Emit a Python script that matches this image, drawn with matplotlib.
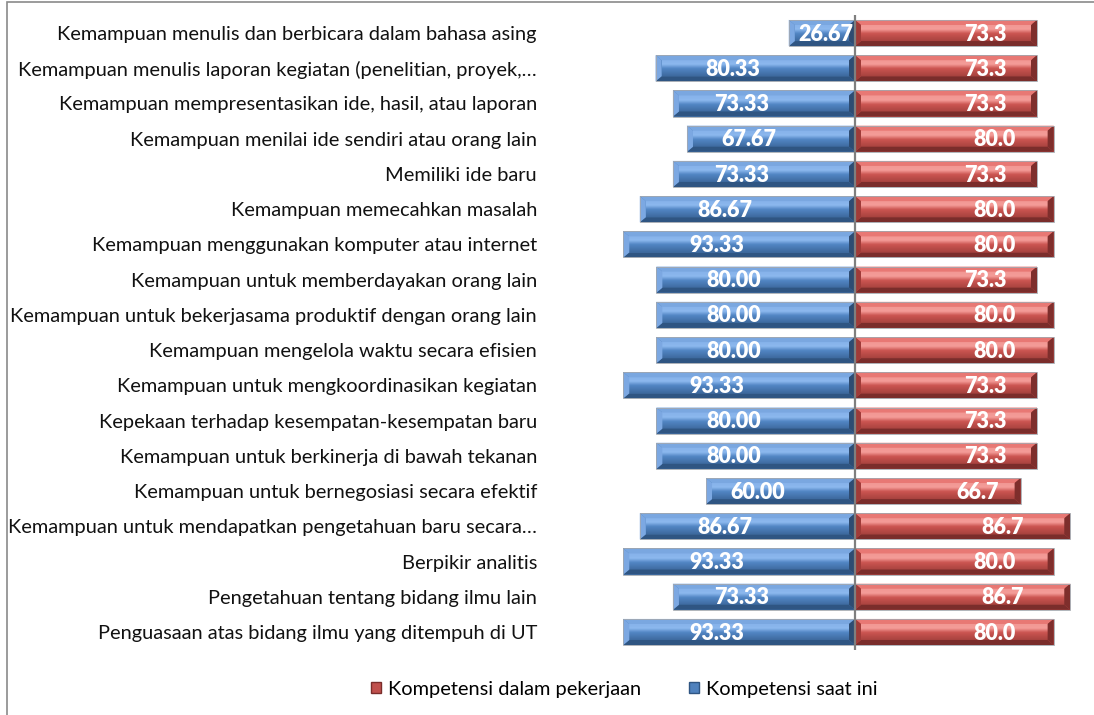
import numpy as np
import matplotlib
matplotlib.use("Agg")
import matplotlib.pyplot as plt
from matplotlib.patches import Polygon, Rectangle, Patch
from matplotlib.colors import to_rgb

categories = [
    "Kemampuan menulis dan berbicara dalam bahasa asing",
    "Kemampuan menulis laporan kegiatan (penelitian, proyek,…",
    "Kemampuan mempresentasikan ide, hasil, atau laporan",
    "Kemampuan menilai ide sendiri atau orang lain",
    "Memiliki ide baru",
    "Kemampuan memecahkan masalah",
    "Kemampuan menggunakan komputer atau internet",
    "Kemampuan untuk memberdayakan orang lain",
    "Kemampuan untuk bekerjasama produktif dengan orang lain",
    "Kemampuan mengelola waktu secara efisien",
    "Kemampuan untuk mengkoordinasikan kegiatan",
    "Kepekaan terhadap kesempatan-kesempatan baru",
    "Kemampuan untuk berkinerja di bawah tekanan",
    "Kemampuan untuk bernegosiasi secara efektif",
    "Kemampuan untuk mendapatkan pengetahuan baru secara…",
    "Berpikir analitis",
    "Pengetahuan tentang bidang ilmu lain",
    "Penguasaan atas bidang ilmu yang ditempuh di UT",
]
kompetensi_saat_ini = [26.67, 80.33, 73.33, 67.67, 73.33, 86.67, 93.33, 80.00, 80.00,
                       80.00, 93.33, 80.00, 80.00, 60.00, 86.67, 93.33, 73.33, 93.33]
kompetensi_pekerjaan = [73.3, 73.3, 73.3, 80.0, 73.3, 80.0, 80.0, 73.3, 80.0,
                        80.0, 73.3, 73.3, 73.3, 66.7, 86.7, 80.0, 86.7, 80.0]
label_saat_ini = ["26.67", "80.33", "73.33", "67.67", "73.33", "86.67", "93.33", "80.00", "80.00",
                  "80.00", "93.33", "80.00", "80.00", "60.00", "86.67", "93.33", "73.33", "93.33"]
label_pekerjaan = ["73.3", "73.3", "73.3", "80.0", "73.3", "80.0", "80.0", "73.3", "80.0",
                   "80.0", "73.3", "73.3", "73.3", "66.7", "86.7", "80.0", "86.7", "80.0"]
legend_labels = ["Kompetensi dalam pekerjaan", "Kompetensi saat ini"]

W, H = 1094, 715
fig = plt.figure(figsize=(W / 100, H / 100), dpi=100)
fig.patch.set_facecolor("white")

# axes geometry (pixels)
ax_l, ax_r, ax_t, ax_b = 560, 1090, 15.4, 649.6
ax = fig.add_axes([ax_l / W, 1 - ax_b / H, (ax_r - ax_l) / W, (ax_b - ax_t) / H])
ppu = 2.483  # pixels per data unit
zero_px = 855
ax.set_xlim(-(zero_px - ax_l) / ppu, (ax_r - zero_px) / ppu)
n = len(categories)
ax.set_ylim(n - 0.5, -0.5)
ppy = (ax_b - ax_t) / n
for s in ax.spines.values():
    s.set_visible(False)
ax.set_xticks([])
y = np.arange(n)
ax.set_yticks(y)
ax.set_yticklabels(categories, fontsize=14.4, family="Lato", color="#111111")
ax.tick_params(axis="y", length=0, pad=16.6)

h = 0.74
blue = dict(base="#4F81BD", stops=[(0.0, "#86B2EA"), (0.3, "#8CB8EE"), (0.55, "#5286C4"), (1.0, "#3E6A9F")],
            top="#7AA7E0", bottom="#2F5582", left="#7CA8E2", right="#2E4C72")
red = dict(base="#C0504D", stops=[(0.0, "#F29793"), (0.3, "#F49C98"), (0.55, "#CC5551"), (1.0, "#A8433F")],
           top="#E87874", bottom="#7A2D2B", left="#A03B38", right="#7E2E2C")

bars_b = ax.barh(y, [-v for v in kompetensi_saat_ini], height=h, color=blue["base"], zorder=1)
bars_r = ax.barh(y, kompetensi_pekerjaan, height=h, color=red["base"], zorder=1)


def bevel(rect, c):
    x0 = rect.get_x(); wdt = rect.get_width()
    xa, xb = min(x0, x0 + wdt), max(x0, x0 + wdt)
    y0 = rect.get_y(); y1 = y0 + rect.get_height()  # y0 top (inverted axis)
    bx = 6 / ppu
    by = 5 / ppy
    stops = c["stops"]
    N = 40
    t = np.linspace(0, 1, N)
    cols = np.zeros((N, 1, 3))
    for k in range(3):
        cols[:, 0, k] = np.interp(t, [s[0] for s in stops], [to_rgb(s[1])[k] for s in stops])
    ax.imshow(cols, extent=[xa + bx, xb - bx, y1 - by, y0 + by], aspect="auto",
              interpolation="bilinear", zorder=2)
    polys = [
        ([(xa, y0), (xb, y0), (xb - bx, y0 + by), (xa + bx, y0 + by)], c["top"]),
        ([(xa, y1), (xb, y1), (xb - bx, y1 - by), (xa + bx, y1 - by)], c["bottom"]),
        ([(xa, y0), (xa + bx, y0 + by), (xa + bx, y1 - by), (xa, y1)], c["left"]),
        ([(xb, y0), (xb - bx, y0 + by), (xb - bx, y1 - by), (xb, y1)], c["right"]),
    ]
    for pts, col in polys:
        ax.add_patch(Polygon(pts, closed=True, facecolor=col, edgecolor="none", zorder=2))
    ax.add_patch(Rectangle((xa, y0), xb - xa, y1 - y0, fill=False, edgecolor="#a4a9b0",
                           lw=0.6, zorder=2.5))


for r in bars_b:
    bevel(r, blue)
for r in bars_r:
    bevel(r, red)

ax.set_xlim(-(zero_px - ax_l) / ppu, (ax_r - zero_px) / ppu)
ax.set_ylim(n - 0.5, -0.5)
ax.axvline(0, color="#7f7f7f", lw=1.6, zorder=5)

for i in range(n):
    vb = kompetensi_saat_ini[i]
    xb_ = -min(vb / 2 + 9, vb - 15)
    ax.text(xb_, i + 0.03, label_saat_ini[i], ha="center", va="center", color="white",
            fontsize=15.5, fontweight="heavy", family="Lato", zorder=6)
    vr = kompetensi_pekerjaan[i]
    ax.text(vr / 2 + 16, i + 0.03, label_pekerjaan[i], ha="center", va="center", color="white",
            fontsize=15.5, fontweight="heavy", family="Lato", zorder=6)

handles = [Patch(facecolor=red["base"], edgecolor=red["bottom"]),
           Patch(facecolor=blue["base"], edgecolor=blue["bottom"])]
fig.legend(handles, legend_labels, loc="center", bbox_to_anchor=(624 / W, 1 - 689 / H),
           ncol=2, frameon=False, prop=dict(family="Lato", size=14.4),
           handlelength=0.5, handleheight=0.5, handletextpad=0.35, columnspacing=2.4)

fig.add_artist(Rectangle((7 / W, -0.1), 1.2, (1 - 2 / H) + 0.1, transform=fig.transFigure,
                         fill=False, edgecolor="#8a8a8a", lw=1.2))

fig.savefig("out.png", dpi=100)
